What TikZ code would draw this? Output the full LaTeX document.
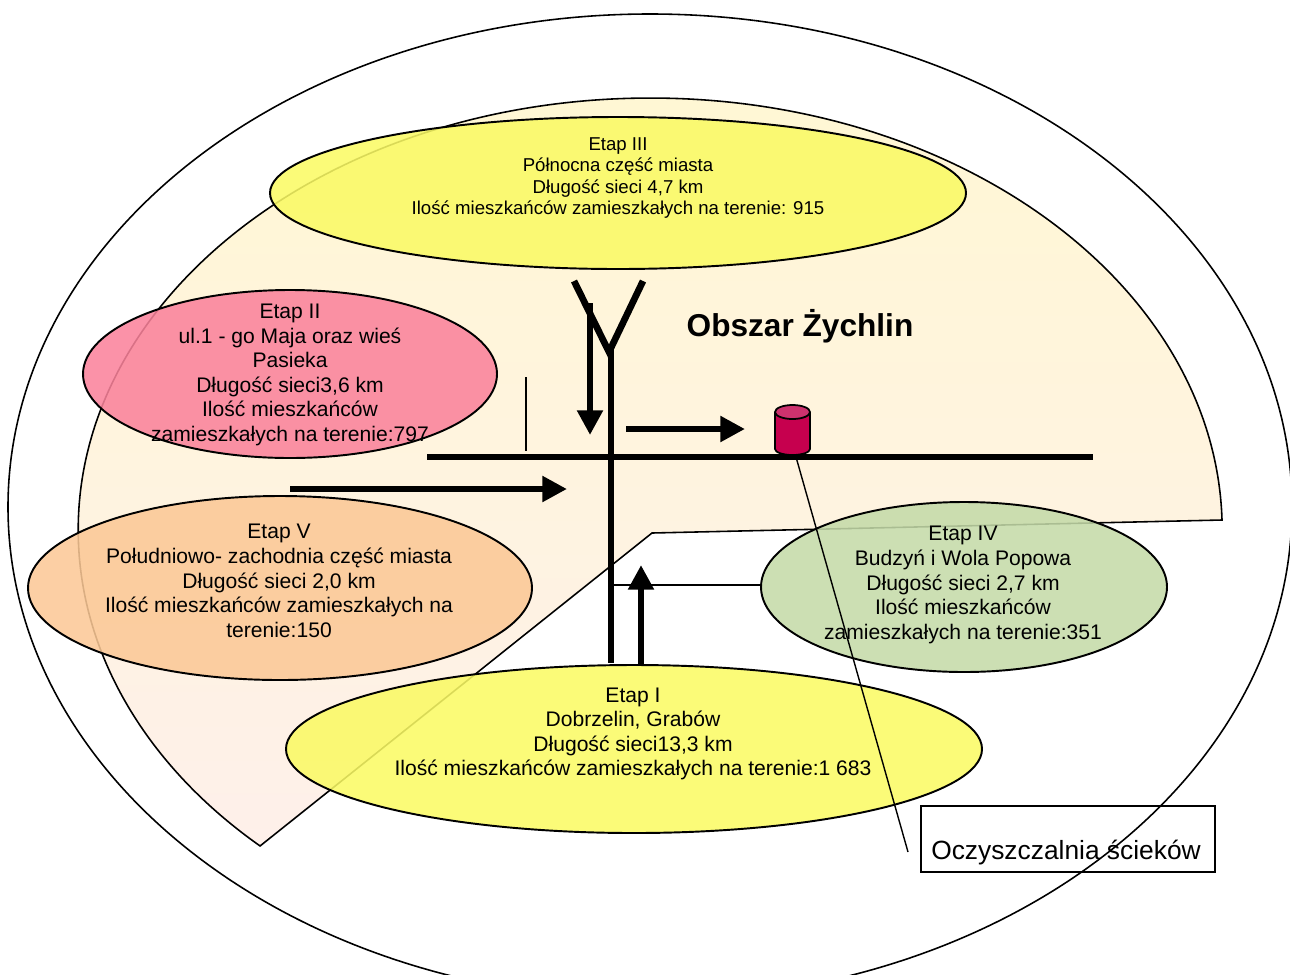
\documentclass[tikz,border=0pt]{standalone}
\usepackage{fontspec}
\setmainfont{Liberation Sans}
\usetikzlibrary{arrows.meta}
\definecolor{zolty}{RGB}{250,250,100}
\definecolor{rozowy}{RGB}{250,130,155}
\definecolor{pomar}{RGB}{251,200,150}
\definecolor{zielony}{RGB}{196,218,168}
\definecolor{bordo}{RGB}{198,0,78}
\definecolor{bordojasny}{RGB}{205,50,110}
\definecolor{tlogora}{RGB}{255,247,212}
\definecolor{tlodol}{RGB}{254,240,234}
\tikzset{
  etap/.style={align=center,font=\fontsize{12}{14}\selectfont},
  pole/.style={draw,line width=1.1pt,fill opacity=0.87},
  rura/.style={line width=3.8pt},
  strz/.style={line width=3.8pt,-{Triangle[length=14pt,width=14pt]}},
  cienka/.style={line width=0.8pt}
}
\begin{document}
\begin{tikzpicture}[x=0.02cm,y=-0.02cm]
\useasboundingbox (0,0) rectangle (1290,974);
% obszar miasta
\draw[line width=0.9pt,top color=tlogora,bottom color=tlodol] (1222,520)
  arc[start angle=-1.33,end angle=-227,x radius=572,y radius=432] -- (652,533) -- cycle;
\draw[line width=0.9pt](650,507) ellipse[x radius=642,y radius=493];
% etapy
\draw[pole,fill=zolty](618,193) ellipse[x radius=348,y radius=76];
\draw[pole,fill=rozowy](290,374) ellipse[x radius=207,y radius=84];
\draw[pole,fill=pomar](280,588) ellipse[x radius=252,y radius=92];
\draw[pole,fill=zielony](964,587) ellipse[x radius=203,y radius=85];
\draw[pole,fill=zolty](634,749) ellipse[x radius=348,y radius=84];
\node (etapIII) at (618,178) [align=center,font=\fontsize{10.6}{12}\selectfont]
  {Etap III\\Północna część miasta\\Długość sieci 4,7 km\\Ilość mieszkańców zamieszkałych na terenie: 915};
\node (etapII) at (290,375) [etap]
  {Etap II\\ul.1 - go Maja oraz wieś\\Pasieka\\Długość sieci3,6 km\\Ilość mieszkańców\\zamieszkałych na terenie:797};
\node (etapV) at (279,581) [etap]
  {Etap V\\Południowo- zachodnia część miasta\\Długość sieci 2,0 km\\Ilość mieszkańców zamieszkałych na\\terenie:150};
\node (etapIV) at (963,585) [etap]
  {Etap IV\\Budzyń i Wola Popowa\\Długość sieci 2,7 km\\Ilość mieszkańców\\zamieszkałych na terenie:351};
\node (etapI) at (633,734) [etap]
  {Etap I\\Dobrzelin, Grabów\\Długość sieci13,3 km\\Ilość mieszkańców zamieszkałych na terenie:1 683};
\node (obszar) at (800,326) [font=\fontsize{18}{20}\selectfont\bfseries]{Obszar Żychlin};
% kanaly
\coordinate (wezel) at (609,352);
\draw[rura](574,281)--(wezel)--(643,281);
\draw[rura](611,350)--(611,663);
\draw[rura](427,457)--(1093,457);
\draw[cienka](526,377)--(526,451);
\draw[cienka](611,585)--(761,585);
\draw[strz](590,303)--(590,435);
\draw[strz](626,429)--(745,429);
\draw[strz](290,489)--(567,489);
\draw[strz](641,665)--(641,565);
% oczyszczalnia
\coordinate (zbiornik) at (796,457);
\draw[line width=1pt,fill=bordo](775,412)--(775,449)
  arc[start angle=180,end angle=0,x radius=17.5,y radius=6]--(810,412);
\draw[line width=1pt,fill=bordojasny](792.5,412) ellipse[x radius=17.5,y radius=7];
\coordinate (koniec) at (908,852);
\draw[cienka](zbiornik)--(koniec);
\draw[line width=1pt](921,806) rectangle (1215,872);
\node (oczy) at (1066,853) [font=\fontsize{15}{18}\selectfont]{Oczyszczalnia ścieków};
\end{tikzpicture}
\end{document}
